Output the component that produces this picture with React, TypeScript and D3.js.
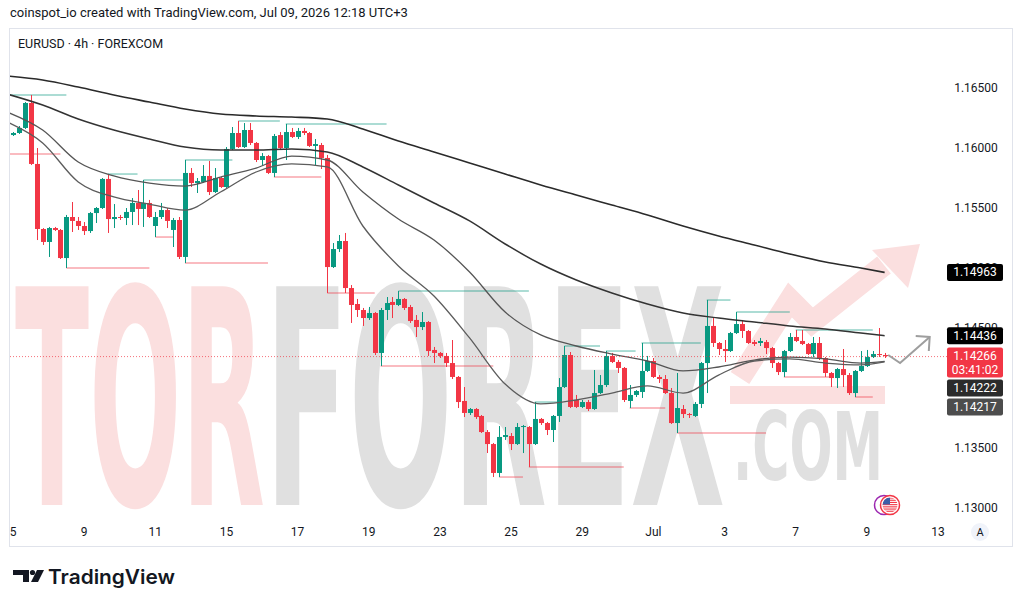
import React from "react";
import * as d3 from "d3";

// EURUSD 4h, one bar every 4 hours, index 0 = Jun 5 00:00
const dayTickIndex = [0, 12, 24, 36, 48, 60, 72, 84, 96, 108, 120, 132, 144, 156];
const dayTickLabel = ["5", "9", "11", "15", "17", "19", "23", "25", "29", "Jul", "3", "7", "9", "13"];
const priceTicks = [1.13, 1.135, 1.14, 1.145, 1.15, 1.155, 1.16, 1.165];

const opens = [
  1.16108, 1.16125, 1.16167, 1.16375, 1.15867, 1.15325, 1.15217, 1.15333, 1.15317, 1.15083,
  1.15425, 1.15392, 1.1535, 1.15308, 1.15458, 1.155, 1.15742, 1.15408, 1.15425, 1.15417,
  1.15467, 1.15542, 1.15492, 1.15542, 1.1535, 1.15425, 1.15483, 1.15317, 1.154, 1.15092,
  1.15792, 1.15708, 1.15717, 1.15767, 1.15633, 1.1575, 1.15675, 1.15992, 1.16125, 1.16008,
  1.1615, 1.16042, 1.159, 1.15933, 1.15792, 1.16108, 1.16, 1.16133, 1.16092, 1.16142,
  1.16125, 1.16017, 1.16025, 1.15917, 1.15008, 1.15158, 1.15225, 1.14833, 1.147, 1.1465,
  1.14583, 1.14625, 1.14292, 1.1465, 1.14717, 1.14692, 1.14742, 1.14675, 1.14567, 1.14508,
  1.1455, 1.14317, 1.14292, 1.14267, 1.14208, 1.14092, 1.13892, 1.13792, 1.13825, 1.13767,
  1.13633, 1.13533, 1.13292, 1.13592, 1.136, 1.13533, 1.13675, 1.13675, 1.13533, 1.13742,
  1.13708, 1.1365, 1.13767, 1.14008, 1.14275, 1.139, 1.13842, 1.13883, 1.13825, 1.13958,
  1.14025, 1.14267, 1.14217, 1.14167, 1.13892, 1.13942, 1.13967, 1.14142, 1.14225, 1.14092,
  1.14075, 1.13958, 1.13708, 1.13825, 1.13783, 1.13767, 1.13867, 1.14208, 1.14517, 1.14375,
  1.14325, 1.14308, 1.14458, 1.14533, 1.14475, 1.14383, 1.14375, 1.14383, 1.14333, 1.14208,
  1.14133, 1.14308, 1.14425, 1.14392, 1.14367, 1.14283, 1.14375, 1.1425, 1.14125, 1.14083,
  1.14158, 1.14108, 1.13958, 1.14142, 1.14183, 1.14258, 1.14283, 1.14275,
];
const highs = [
  1.16133, 1.16183, 1.16383, 1.16442, 1.16, 1.15333, 1.15342, 1.15342, 1.15325, 1.15442,
  1.1555, 1.15425, 1.15383, 1.15467, 1.15508, 1.1575, 1.15783, 1.15533, 1.15442, 1.155,
  1.15583, 1.1565, 1.15733, 1.15567, 1.15467, 1.15542, 1.155, 1.15417, 1.15425, 1.159,
  1.15833, 1.1575, 1.15858, 1.15892, 1.15833, 1.15758, 1.16008, 1.16175, 1.16225, 1.16208,
  1.16208, 1.1605, 1.15958, 1.15942, 1.16117, 1.16133, 1.162, 1.16167, 1.16167, 1.16167,
  1.16133, 1.16075, 1.16042, 1.15942, 1.15208, 1.15275, 1.15292, 1.14858, 1.14742, 1.14667,
  1.14675, 1.14633, 1.14667, 1.14758, 1.14758, 1.14808, 1.1475, 1.14692, 1.14608, 1.14633,
  1.14558, 1.14342, 1.143, 1.14292, 1.144, 1.141, 1.14008, 1.13833, 1.13833, 1.13775,
  1.1365, 1.13542, 1.13683, 1.13675, 1.13625, 1.13708, 1.13692, 1.13683, 1.13883, 1.1375,
  1.13717, 1.13775, 1.14083, 1.1435, 1.143, 1.13942, 1.139, 1.139, 1.1415, 1.14108,
  1.14308, 1.14292, 1.14233, 1.14175, 1.14025, 1.13983, 1.14375, 1.14267, 1.1425, 1.14108,
  1.14108, 1.14, 1.14125, 1.13858, 1.13792, 1.13883, 1.14217, 1.14733, 1.14583, 1.14383,
  1.144, 1.14467, 1.14633, 1.14567, 1.14483, 1.144, 1.14417, 1.144, 1.14342, 1.14217,
  1.14317, 1.14458, 1.14483, 1.14483, 1.14375, 1.14425, 1.14425, 1.14258, 1.14133, 1.14167,
  1.14325, 1.14125, 1.1415, 1.14308, 1.14317, 1.14308, 1.145, 1.14292,
];
const lows = [
  1.161, 1.16117, 1.16158, 1.15858, 1.15233, 1.15192, 1.15092, 1.15308, 1.15075, 1.15,
  1.153, 1.15317, 1.15275, 1.15292, 1.15375, 1.15492, 1.15292, 1.15333, 1.154, 1.15358,
  1.15358, 1.15358, 1.15342, 1.15417, 1.15258, 1.15408, 1.15333, 1.15175, 1.15075, 1.15042,
  1.15675, 1.15625, 1.15708, 1.15608, 1.15625, 1.15667, 1.15667, 1.15983, 1.16, 1.16,
  1.16025, 1.15883, 1.15858, 1.15783, 1.15758, 1.15992, 1.159, 1.16083, 1.16075, 1.16108,
  1.16008, 1.15858, 1.15825, 1.14792, 1.15, 1.15133, 1.14792, 1.14542, 1.14592, 1.14517,
  1.14567, 1.14275, 1.14183, 1.14567, 1.14583, 1.14683, 1.1465, 1.14542, 1.14425, 1.14483,
  1.14267, 1.14208, 1.1425, 1.14175, 1.14075, 1.13833, 1.13758, 1.13775, 1.13742, 1.13625,
  1.13458, 1.13258, 1.13258, 1.13567, 1.13483, 1.13525, 1.13458, 1.13342, 1.13525, 1.13692,
  1.13608, 1.1355, 1.13717, 1.14, 1.13833, 1.13833, 1.13833, 1.13808, 1.13817, 1.1395,
  1.14008, 1.14208, 1.14125, 1.13883, 1.13833, 1.13925, 1.13917, 1.14133, 1.14083, 1.14042,
  1.1395, 1.137, 1.13625, 1.1375, 1.1375, 1.13758, 1.13833, 1.13958, 1.14342, 1.14275,
  1.14217, 1.143, 1.1445, 1.14417, 1.14367, 1.1435, 1.1435, 1.14283, 1.14167, 1.14108,
  1.14092, 1.143, 1.14383, 1.14358, 1.14275, 1.14258, 1.14233, 1.14092, 1.14008, 1.14,
  1.14008, 1.13942, 1.13925, 1.14133, 1.14175, 1.1425, 1.14258, 1.1425,
];
const closes = [
  1.16125, 1.16167, 1.16375, 1.15867, 1.15325, 1.15217, 1.15333, 1.15317, 1.15083, 1.15425,
  1.15392, 1.1535, 1.15308, 1.15458, 1.155, 1.15742, 1.15408, 1.15425, 1.15417, 1.15467,
  1.15542, 1.15492, 1.15542, 1.15425, 1.15425, 1.15483, 1.15392, 1.154, 1.15092, 1.15792,
  1.15708, 1.15725, 1.15767, 1.15633, 1.1575, 1.15675, 1.15992, 1.16125, 1.16008, 1.1615,
  1.16042, 1.159, 1.15933, 1.15792, 1.161, 1.16, 1.16133, 1.16092, 1.16142, 1.16125,
  1.16017, 1.16033, 1.15917, 1.15008, 1.15158, 1.15225, 1.14833, 1.14692, 1.1465, 1.14583,
  1.14625, 1.14292, 1.1465, 1.14708, 1.14692, 1.14742, 1.14667, 1.14558, 1.14508, 1.1455,
  1.14308, 1.14292, 1.14267, 1.14208, 1.14092, 1.13883, 1.13792, 1.13825, 1.13758, 1.13633,
  1.13533, 1.13292, 1.13592, 1.13608, 1.13533, 1.13675, 1.13683, 1.13533, 1.13742, 1.13708,
  1.1365, 1.13767, 1.14008, 1.14275, 1.13842, 1.13842, 1.13883, 1.13825, 1.13958, 1.14025,
  1.14267, 1.14217, 1.14167, 1.139, 1.13942, 1.13975, 1.14142, 1.14225, 1.14092, 1.14075,
  1.13958, 1.13708, 1.13833, 1.13783, 1.13775, 1.13867, 1.14208, 1.14517, 1.14375, 1.14325,
  1.14308, 1.14458, 1.14533, 1.14475, 1.14375, 1.14367, 1.14392, 1.14333, 1.14208, 1.14133,
  1.14308, 1.14425, 1.14392, 1.14367, 1.14283, 1.14375, 1.14242, 1.14125, 1.14083, 1.14158,
  1.14108, 1.13958, 1.14142, 1.14183, 1.14258, 1.14283, 1.14275, 1.14266,
];

// moving averages, read at one point per trading day
const maIndex = [-1, 5, 11, 17, 23, 29, 35, 41, 47, 53, 59, 65, 71, 77, 83, 89, 95, 101, 107, 113, 119, 125, 131, 137, 143, 147];
const maSlow = [
  1.166, 1.16567, 1.16508, 1.16442, 1.16383, 1.16325, 1.16283, 1.16267, 1.16258, 1.16242,
  1.16158, 1.16058, 1.15967, 1.15875, 1.15783, 1.15692, 1.15608, 1.15525, 1.15442, 1.1535,
  1.15267, 1.15192, 1.15117, 1.1505, 1.15, 1.14963,
];
const maMid = [
  1.1645, 1.16358, 1.16242, 1.1615, 1.16075, 1.16008, 1.15983, 1.15983, 1.15992, 1.15967,
  1.15842, 1.15692, 1.15542, 1.15392, 1.152, 1.15033, 1.149, 1.14792, 1.147, 1.14625,
  1.14583, 1.1455, 1.14517, 1.14492, 1.14458, 1.14436,
];
const maFast = [
  1.163, 1.1615, 1.15883, 1.15767, 1.15708, 1.15683, 1.15758, 1.15833, 1.15933, 1.159,
  1.15633, 1.15408, 1.15233, 1.14967, 1.14633, 1.14442, 1.1435, 1.14283, 1.14225, 1.14142,
  1.14175, 1.14233, 1.14258, 1.14242, 1.14208, 1.14222,
];
const maFastest = [
  1.16217, 1.16042, 1.15717, 1.15592, 1.15533, 1.15483, 1.15633, 1.158, 1.15867, 1.15842,
  1.1535, 1.15017, 1.14767, 1.14417, 1.14033, 1.13867, 1.139, 1.13958, 1.14017, 1.13958,
  1.14108, 1.14225, 1.14242, 1.14208, 1.14192, 1.14217,
];

// pivot high / low rays: [from bar, to bar, price]
const pivotHighs: [number, number, number][] = [
  [-1, 9, 1.16442], [16, 21, 1.15783], [22, 29, 1.15733], [29, 37, 1.159], [38, 45, 1.16225],
  [46, 63, 1.162], [65, 87, 1.14808], [88, 92, 1.13883], [93, 99, 1.1435], [100, 105, 1.14308],
  [106, 116, 1.14375], [117, 121, 1.14733], [122, 131, 1.14633], [132, 145, 1.14483],
];
const pivotLows: [number, number, number][] = [
  [-1, 8, 1.1595], [9, 23, 1.15], [24, 27, 1.15258], [29, 43, 1.15042], [44, 52, 1.15758],
  [53, 61, 1.14792], [62, 81, 1.14183], [82, 86, 1.13258], [87, 103, 1.13342], [104, 110, 1.13833],
  [112, 127, 1.13625], [130, 138, 1.14092], [142, 145, 1.13925],
];

// hand drawn projection arrow: [bar, price]
const arrowPath: [number, number][] = [[147.6, 1.14275], [149.6, 1.14208], [154.6, 1.14425]];

const UP = "#089981";
const DOWN = "#F23645";
const FONT = "Roboto, 'Open Sans', sans-serif";
const PINK = "#fbdfdf";
const GREY = "#e0e0e0";

export default function App() {
  const x = d3.scaleLinear().domain([0, 156]).range([13, 938]);
  const y = d3.scaleLinear().domain([1.13, 1.165]).range([508, 88]);
  const fmt = d3.format(".5f");

  const maLine = d3
    .line<[number, number]>()
    .x((d) => x(d[0]))
    .y((d) => y(d[1]))
    .curve(d3.curveMonotoneX);
  const series = [
    { v: maSlow, color: "#2a2a2a", w: 1.6 },
    { v: maMid, color: "#333333", w: 1.5 },
    { v: maFast, color: "#555555", w: 1.3 },
    { v: maFastest, color: "#5c5c5c", w: 1.3 },
  ];

  const last = closes[closes.length - 1];
  const lastUp = last >= opens[opens.length - 1];

  // price scale labels, stacked so they don't overlap
  type Lbl = { v: number; bg: string; lines: string[] };
  const labels: Lbl[] = [
    { v: maSlow[maSlow.length - 1], bg: "#000000", lines: [fmt(maSlow[maSlow.length - 1])] },
    { v: maMid[maMid.length - 1], bg: "#000000", lines: [fmt(maMid[maMid.length - 1])] },
    { v: last, bg: lastUp ? UP : DOWN, lines: [fmt(last), "03:41:02"] },
    { v: maFast[maFast.length - 1], bg: "#2b2b2b", lines: [fmt(maFast[maFast.length - 1])] },
    { v: maFastest[maFastest.length - 1], bg: "#4d4d4d", lines: [fmt(maFastest[maFastest.length - 1])] },
  ];
  let prevBottom = -Infinity;
  const placed = labels.map((l) => {
    const h = l.lines.length > 1 ? 30 : 17;
    const top = Math.max(y(l.v) - 8.5, prevBottom + 2);
    prevBottom = top + h;
    return { ...l, top, h };
  });

  const arrowPts = arrowPath.map((d) => [x(d[0]), y(d[1])] as [number, number]);
  const tip = arrowPts[arrowPts.length - 1];
  const prev = arrowPts[arrowPts.length - 2];
  const ang = Math.atan2(tip[1] - prev[1], tip[0] - prev[0]) + Math.PI;
  const arm = (a: number) => [tip[0] + 14 * Math.cos(ang + a), tip[1] + 14 * Math.sin(ang + a)];
  const a1 = arm(Math.PI / 4);
  const a2 = arm(-Math.PI / 4);

  return (
    <svg
      width={1024}
      height={609}
      style={{ position: "absolute", left: 0, top: 0, background: "#fff" }}
      fontFamily={FONT}
    >
      <defs>
        <clipPath id="plot">
          <rect x={10} y={29} width={930} height={490} />
        </clipPath>
        <clipPath id="flag">
          <circle cx={890} cy={505} r={7.5} />
        </clipPath>
      </defs>
      <rect width={1024} height={609} fill="#fff" />

      <text x={10} y={17} fontSize={13} fill="#131722">
        coinspot_io created with TradingView.com, Jul 09, 2026 12:18 UTC+3
      </text>
      <rect x={9.5} y={28.5} width={1003} height={518} fill="none" stroke="#e0e3eb" />

      {/* watermark */}
      <g fontFamily="'Liberation Sans Narrow', 'DejaVu Sans Condensed', sans-serif" fontWeight="bold">
        <text x={15} y={505} fontSize={300} textLength={250} lengthAdjust="spacingAndGlyphs" fill={PINK}>
          TOR
        </text>
        <text x={265} y={505} fontSize={300} textLength={460} lengthAdjust="spacingAndGlyphs" fill={GREY}>
          FOREX
        </text>
        <text x={733} y={480} fontSize={94} textLength={150} lengthAdjust="spacingAndGlyphs" fill={GREY}>
          .COM
        </text>
        <rect x={730} y={386} width={155} height={18} fill={PINK} />
        <polyline
          points="740,378 790,300 812,322 884,265"
          fill="none"
          stroke={PINK}
          strokeWidth={22}
          strokeLinejoin="miter"
        />
        <polygon points="872,250 920,244 908,288" fill={PINK} />
      </g>

      <text x={18} y={48} fontSize={12.5} fill="#131722">
        EURUSD · 4h · FOREXCOM
      </text>

      <g clipPath="url(#plot)">
        {pivotHighs.map((p, i) => (
          <line key={"h" + i} x1={x(p[0])} x2={x(p[1])} y1={y(p[2])} y2={y(p[2])} stroke={UP} strokeOpacity={0.45} strokeWidth={1.5} />
        ))}
        {pivotLows.map((p, i) => (
          <line key={"l" + i} x1={x(p[0])} x2={x(p[1])} y1={y(p[2])} y2={y(p[2])} stroke={DOWN} strokeOpacity={0.45} strokeWidth={1.5} />
        ))}

        {opens.map((o, i) => {
          const c = closes[i];
          const col = c >= o ? UP : DOWN;
          const px = Math.round(x(i));
          const top = y(Math.max(o, c));
          const bot = y(Math.min(o, c));
          return (
            <g key={i}>
              <line x1={px + 0.5} x2={px + 0.5} y1={y(highs[i])} y2={y(lows[i])} stroke={col} />
              <rect x={px - 2} y={top} width={5} height={Math.max(1, bot - top)} fill={col} />
            </g>
          );
        })}

        {series.map((s, k) => (
          <path
            key={k}
            d={maLine(maIndex.map((d, i) => [d, s.v[i]] as [number, number])) || ""}
            fill="none"
            stroke={s.color}
            strokeWidth={s.w}
          />
        ))}
      </g>

      <line x1={10} x2={947} y1={y(last) + 0.5} y2={y(last) + 0.5} stroke={DOWN} strokeOpacity={0.7} strokeDasharray="1 2" />

      <polyline points={arrowPts.map((p) => p.join(",")).join(" ")} fill="none" stroke="#9e9e9e" strokeWidth={2} />
      <polyline points={[a1, tip, a2].map((p) => p.join(",")).join(" ")} fill="none" stroke="#9e9e9e" strokeWidth={2} />

      {/* price scale */}
      {priceTicks.map((t) => (
        <text key={t} x={976} y={y(t)} fontSize={12} fill="#131722" textAnchor="middle" dominantBaseline="central">
          {fmt(t)}
        </text>
      ))}
      {placed.map((l, i) => (
        <g key={i}>
          <rect x={947} y={l.top} width={56} height={l.h} rx={2} fill={l.bg} />
          {l.lines.map((s, j) => (
            <text key={j} x={975} y={l.top + 8.5 + j * 14} fontSize={12} fill="#fff" textAnchor="middle" dominantBaseline="central">
              {s}
            </text>
          ))}
        </g>
      ))}

      {/* time scale */}
      {dayTickIndex.map((d, i) => (
        <text key={d} x={x(d)} y={532} fontSize={12} fill="#131722" textAnchor="middle" dominantBaseline="central">
          {dayTickLabel[i]}
        </text>
      ))}
      <circle cx={980} cy={532} r={9} fill="#f0f3fa" />
      <text x={980} y={532} fontSize={11} fill="#131722" textAnchor="middle" dominantBaseline="central">
        A
      </text>

      {/* currency flag badge */}
      <circle cx={884} cy={505} r={9.5} fill="#fff" stroke="#9c27b0" strokeWidth={1.5} />
      <circle cx={890} cy={505} r={9.5} fill="#fff" stroke={DOWN} strokeWidth={1.5} />
      <g clipPath="url(#flag)">
        {d3.range(7).map((k) => (
          <rect key={k} x={882} y={497.5 + k * 2.2} width={16} height={1.1} fill={DOWN} />
        ))}
        <rect x={882} y={497.5} width={8} height={7} fill="#3c5ea8" />
      </g>

      {/* logo */}
      <g fill="#131722">
        <rect x={13} y={570} width={16} height={5} />
        <rect x={23} y={570} width={6} height={12} />
        <circle cx={32.5} cy={572.5} r={2.6} />
        <polygon points="37,570 44,570 38,582 31,582" />
        <text x={48} y={584} fontSize={20} fontWeight={600} fontFamily="Inter, Lato, sans-serif" textLength={127} lengthAdjust="spacingAndGlyphs">
          TradingView
        </text>
      </g>
    </svg>
  );
}
